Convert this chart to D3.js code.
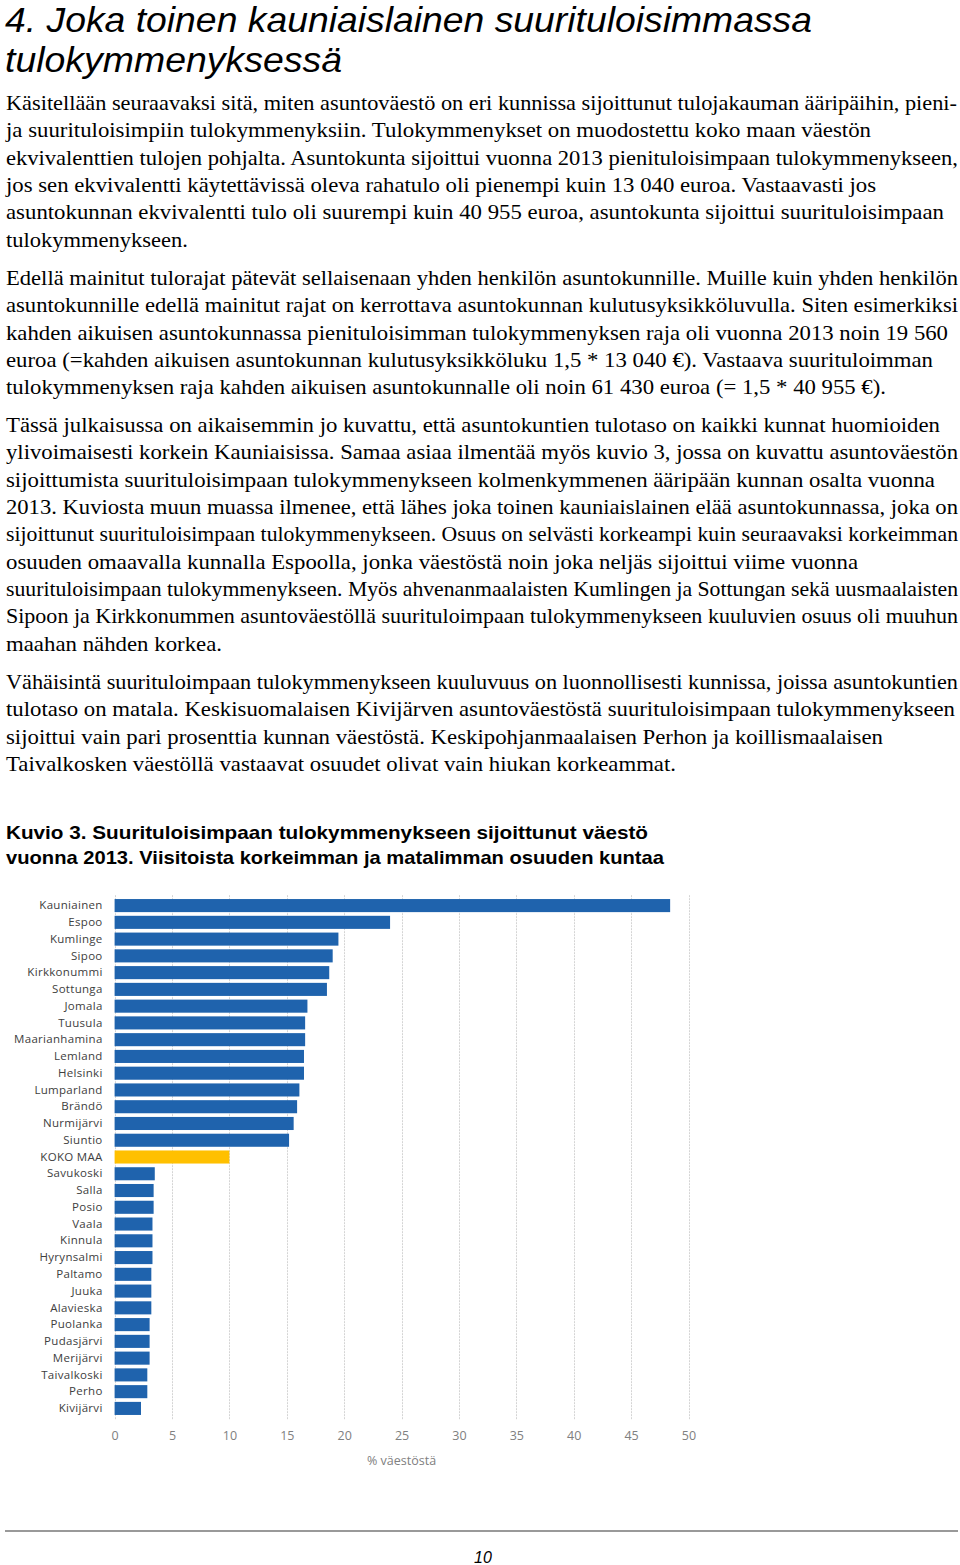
<!DOCTYPE html>
<html>
<head>
<meta charset="utf-8">
<script src="https://cdn.jsdelivr.net/npm/d3@7"></script>
<style>
  body { margin: 0; background: #fff; }
  svg text { white-space: pre; }
  .title { font-family: "Liberation Sans Narrow", "Liberation Sans", sans-serif; font-style: italic; font-size: 35px; fill: #000; }
  .body { font-family: "Liberation Serif", serif; font-size: 21px; fill: #000; }
  .caption { font-family: "Liberation Sans", sans-serif; font-weight: bold; font-size: 19px; fill: #000; }
  .catLabel { font-family: "Open Sans", sans-serif; font-size: 11.5px; letter-spacing: 0.3px; fill: #404040; }
  .tickLabel { font-family: "Open Sans", sans-serif; font-size: 12.5px; fill: #808080; }
  .axisTitle { font-family: "Open Sans", sans-serif; font-size: 12.5px; fill: #808080; }
  .gridLine { stroke: #d4d4d4; stroke-width: 1; stroke-dasharray: 2,1; }
  .pageNo { font-family: "Liberation Sans Narrow", "Liberation Sans", sans-serif; font-style: italic; font-size: 16px; fill: #000; }
</style>
</head>
<body>
<script>
/* chart data: share of population in the top income decile, 2013 */
var municipalities = ["Kauniainen", "Espoo", "Kumlinge", "Sipoo", "Kirkkonummi",
  "Sottunga", "Jomala", "Tuusula", "Maarianhamina", "Lemland", "Helsinki",
  "Lumparland", "Brändö", "Nurmijärvi", "Siuntio", "KOKO MAA", "Savukoski",
  "Salla", "Posio", "Vaala", "Kinnula", "Hyrynsalmi", "Paltamo", "Juuka",
  "Alavieska", "Puolanka", "Pudasjärvi", "Merijärvi", "Taivalkoski", "Perho",
  "Kivijärvi"]
var shares = [48.4, 24.0, 19.5, 19.0, 18.7, 18.5, 16.8, 16.6, 16.6, 16.5, 16.5,
  16.1, 15.9, 15.6, 15.2, 10.0, 3.5, 3.4, 3.4, 3.3, 3.3, 3.3, 3.2, 3.2, 3.2,
  3.05, 3.05, 3.05, 2.85, 2.85, 2.3]
var wholeCountry = "KOKO MAA"
var xTicks = [0, 5, 10, 15, 20, 25, 30, 35, 40, 45, 50]
var xTitle = "% väestöstä"

/* page text, one entry per printed line: [text, right end of line] */
var titleLines = [
  ["4. Joka toinen kauniaislainen suurituloisimmassa", 812],
  ["tulokymmenyksessä", 342]
]
var paragraphs = [
  [
    ["Käsitellään seuraavaksi sitä, miten asuntoväestö on eri kunnissa sijoittunut tulojakauman ääripäihin, pieni-", 957],
    ["ja suurituloisimpiin tulokymmenyksiin. Tulokymmenykset on muodostettu koko maan väestön", 871],
    ["ekvivalenttien tulojen pohjalta. Asuntokunta sijoittui vuonna 2013 pienituloisimpaan tulokymmenykseen,", 958],
    ["jos sen ekvivalentti käytettävissä oleva rahatulo oli pienempi kuin 13 040 euroa. Vastaavasti jos", 876],
    ["asuntokunnan ekvivalentti tulo oli suurempi kuin 40 955 euroa, asuntokunta sijoittui suurituloisimpaan", 944],
    ["tulokymmenykseen.", 188]
  ],
  [
    ["Edellä mainitut tulorajat pätevät sellaisenaan yhden henkilön asuntokunnille. Muille kuin yhden henkilön", 958],
    ["asuntokunnille edellä mainitut rajat on kerrottava asuntokunnan kulutusyksikköluvulla. Siten esimerkiksi", 958],
    ["kahden aikuisen asuntokunnassa pienituloisimman tulokymmenyksen raja oli vuonna 2013 noin 19 560", 948],
    ["euroa (=kahden aikuisen asuntokunnan kulutusyksikköluku 1,5 * 13 040 €). Vastaava suurituloimman", 933],
    ["tulokymmenyksen raja kahden aikuisen asuntokunnalle oli noin 61 430 euroa (= 1,5 * 40 955 €).", 886]
  ],
  [
    ["Tässä julkaisussa on aikaisemmin jo kuvattu, että asuntokuntien tulotaso on kaikki kunnat huomioiden", 940],
    ["ylivoimaisesti korkein Kauniaisissa. Samaa asiaa ilmentää myös kuvio 3, jossa on kuvattu asuntoväestön", 958],
    ["sijoittumista suurituloisimpaan tulokymmenykseen kolmenkymmenen ääripään kunnan osalta vuonna", 935],
    ["2013. Kuviosta muun muassa ilmenee, että lähes joka toinen kauniaislainen elää asuntokunnassa, joka on", 958],
    ["sijoittunut suurituloisimpaan tulokymmenykseen. Osuus on selvästi korkeampi kuin seuraavaksi korkeimman", 958],
    ["osuuden omaavalla kunnalla Espoolla, jonka väestöstä noin joka neljäs sijoittui viime vuonna", 858],
    ["suurituloisimpaan tulokymmenykseen. Myös ahvenanmaalaisten Kumlingen ja Sottungan sekä uusmaalaisten", 958],
    ["Sipoon ja Kirkkonummen asuntoväestöllä suurituloimpaan tulokymmenykseen kuuluvien osuus oli muuhun", 958],
    ["maahan nähden korkea.", 222]
  ],
  [
    ["Vähäisintä suurituloimpaan tulokymmenykseen kuuluvuus on luonnollisesti kunnissa, joissa asuntokuntien", 958],
    ["tulotaso on matala. Keskisuomalaisen Kivijärven asuntoväestöstä suurituloisimpaan tulokymmenykseen", 955],
    ["sijoittui vain pari prosenttia kunnan väestöstä. Keskipohjanmaalaisen Perhon ja koillismaalaisen", 883],
    ["Taivalkosken väestöllä vastaavat osuudet olivat vain hiukan korkeammat.", 676]
  ]
]
var captionLines = [
  ["Kuvio 3. Suurituloisimpaan tulokymmenykseen sijoittunut väestö", 648],
  ["vuonna 2013. Viisitoista korkeimman ja matalimman osuuden kuntaa", 664]
]
var pageNumber = "10"


/* layout */
var page = { width: 960, height: 1565, left: 6 }
var chart = { left: 114.6, right: 688.5, top: 897.2, bottom: 1416.8 }


function main()
{
  var svg = d3.select("body")
    .append("svg")
    .attr("id", "page")
    .attr("width", page.width)
    .attr("height", page.height)

  addText(svg)
  addChart(svg)
  addFooter(svg)
}


/* heading, body paragraphs and figure caption */
function addText(svg)
{
  var g = svg.append("g").attr("id", "text")

  // title, two lines
  g.selectAll(".title")
    .data(titleLines)
    .enter()
    .append("text")
    .attr("class", "title")
    .attr("x", page.left - 1)
    .attr("y", function(d, i) { return 32 + i * 40 })
    .attr("textLength", function(d) { return d[1] - page.left + 1 })
    .attr("lengthAdjust", "spacingAndGlyphs")
    .text(function(d) { return d[0] })

  // paragraphs: line pitch 27.4, gap between paragraphs ~10
  var paraTop = [110, 285, 432, 689]
  paragraphs.forEach(function(lines, p)
  {
    g.selectAll(".para" + p)
      .data(lines)
      .enter()
      .append("text")
      .attr("class", "body para" + p)
      .attr("x", page.left)
      .attr("y", function(d, i) { return paraTop[p] + i * 27.35 })
      .attr("textLength", function(d) { return d[1] - page.left })
      .attr("lengthAdjust", "spacingAndGlyphs")
      .text(function(d) { return d[0] })
  })

  g.selectAll(".caption")
    .data(captionLines)
    .enter()
    .append("text")
    .attr("class", "caption")
    .attr("x", page.left)
    .attr("y", function(d, i) { return 839 + i * 25 })
    .attr("textLength", function(d) { return d[1] - page.left })
    .attr("lengthAdjust", "spacingAndGlyphs")
    .text(function(d) { return d[0] })
}


/* horizontal bar chart */
function addChart(svg)
{
  var x = d3.scaleLinear()
    .domain([0, 50])
    .range([chart.left, chart.right])

  var y = d3.scaleBand()
    .domain(municipalities)
    .range([chart.top, chart.bottom])
    .paddingInner(0.22)
    .paddingOuter(0.11)

  var g = svg.append("g").attr("id", "chart")

  // vertical grid lines
  g.append("g")
    .attr("id", "grid")
    .selectAll("line")
    .data(xTicks)
    .enter()
    .append("line")
    .attr("class", "gridLine")
    .attr("x1", function(d) { return Math.round(x(d)) + 0.5 })
    .attr("x2", function(d) { return Math.round(x(d)) + 0.5 })
    .attr("y1", chart.top - 2)
    .attr("y2", chart.bottom + 3)

  // bars
  g.append("g")
    .attr("id", "bars")
    .selectAll("rect")
    .data(municipalities)
    .enter()
    .append("rect")
    .attr("x", x(0))
    .attr("y", function(d) { return y(d) })
    .attr("width", function(d, i) { return x(shares[i]) - x(0) })
    .attr("height", y.bandwidth())
    .attr("fill", function(d) { return d == wholeCountry ? "#ffc000" : "#1f63ad" })

  // category labels (left axis without its line)
  var yAxis = d3.axisLeft(y).tickSize(0).tickPadding(12)
  var ya = g.append("g")
    .attr("id", "yAxis")
    .attr("transform", "translate(" + x(0) + ",0)")
    .call(yAxis)
  ya.select(".domain").remove()
  ya.selectAll("text")
    .attr("class", "catLabel")
    .attr("font-family", null)
    .attr("font-size", null)
    .attr("fill", null)

  // value axis at the bottom, labels only
  var xAxis = d3.axisBottom(x).tickValues(xTicks).tickSize(0).tickPadding(0)
  var xa = g.append("g")
    .attr("id", "xAxis")
    .attr("transform", "translate(0," + (chart.bottom + 14) + ")")
    .call(xAxis)
  xa.select(".domain").remove()
  xa.selectAll("text")
    .attr("class", "tickLabel")
    .attr("font-family", null)
    .attr("font-size", null)
    .attr("fill", null)

  g.append("text")
    .attr("class", "axisTitle")
    .attr("x", (chart.left + chart.right) / 2)
    .attr("y", 1465)
    .attr("text-anchor", "middle")
    .text(xTitle)
}


/* rule and page number */
function addFooter(svg)
{
  svg.append("line")
    .attr("x1", 5)
    .attr("x2", 958)
    .attr("y1", 1531)
    .attr("y2", 1531)
    .attr("stroke", "#999")
    .attr("stroke-width", 2)

  svg.append("text")
    .attr("class", "pageNo")
    .attr("x", 483)
    .attr("y", 1563)
    .attr("text-anchor", "middle")
    .text(pageNumber)
}

main()
</script>
</body>
</html>
